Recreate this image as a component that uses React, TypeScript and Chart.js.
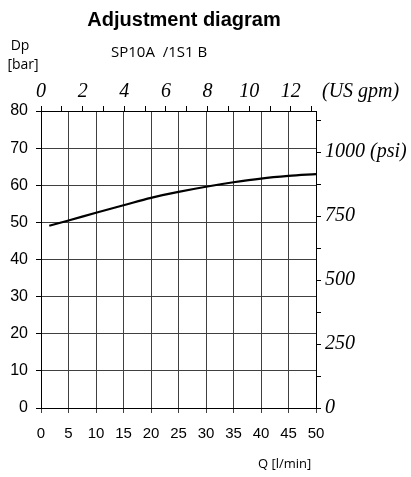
import React, { useEffect, useRef } from "react";
import { Chart, registerables } from "chart.js";

Chart.register(...registerables);

// ---- data ----
const flowLpm = [1.5, 5, 10, 15, 20, 25, 30, 35, 40, 45, 50];
const pressureBar = [49.1, 50.5, 52.6, 54.6, 56.6, 58.2, 59.6, 60.8, 61.8, 62.5, 63.0];

const gpmTicks = [0, 1, 2, 3, 4, 5, 6, 7, 8, 9, 10, 11, 12, 13];
const psiTicks = [0, 125, 250, 375, 500, 625, 750, 875, 1000, 1125];

const LPM_PER_GPM = 3.78541;
const PSI_PER_BAR = 14.5038;

const X_MIN = 0;
const X_MAX = 50;
const Y_MIN = 0;
const Y_MAX = 80;

const SANS = '"Liberation Sans", Arial, sans-serif';
const SERIF = '"Liberation Serif", "Times New Roman", serif';
const HUMAN = '"Open Sans", "Noto Sans", sans-serif';

const textPlugin = {
  id: "texts",
  afterDraw(chart: any) {
    const ctx = chart.ctx;
    ctx.save();
    ctx.fillStyle = "#000";
    ctx.textBaseline = "middle";

    ctx.font = `bold 20px ${SANS}`;
    ctx.textAlign = "center";
    ctx.fillText("Adjustment diagram", 184, 20);

    ctx.font = `14px ${HUMAN}`;
    ctx.fillText("Dp", 20, 46);
    ctx.fillText("[bar]", 23, 65);

    ctx.font = `15px ${HUMAN}`;
    ctx.textAlign = "left";
    ctx.fillText("SP10A  /1S1 B", 111, 53);

    ctx.font = `13px ${HUMAN}`;
    ctx.fillText("Q [l/min]", 258, 464);

    ctx.font = `italic 20px ${SERIF}`;
    ctx.fillText("(US gpm)", 322, 92);
    ctx.restore();
  },
};

export default function App() {
  const ref = useRef<HTMLCanvasElement>(null);

  useEffect(() => {
    if (!ref.current) return;
    const chart = new Chart(ref.current, {
      type: "line",
      data: {
        datasets: [
          {
            data: flowLpm.map((q, i) => ({ x: q, y: pressureBar[i] })),
            borderColor: "#000",
            borderWidth: 2.2,
            pointRadius: 0,
            fill: false,
            cubicInterpolationMode: "monotone",
            xAxisID: "x",
            yAxisID: "y",
          },
        ],
      },
      options: {
        animation: false,
        responsive: false,
        layout: { padding: 0 },
        plugins: {
          legend: { display: false },
          title: { display: false },
          tooltip: { enabled: false },
        },
        scales: {
          x: {
            type: "linear",
            position: "bottom",
            min: X_MIN,
            max: X_MAX,
            afterFit: (s: any) => {
              s.height = 69;
            },
            ticks: {
              stepSize: 5,
              color: "#000",
              font: { family: SANS, size: 15 },
              padding: 12,
              maxRotation: 0,
              autoSkip: false,
            },
            grid: {
              color: "#404040",
              lineWidth: 1,
              tickLength: 5,
              tickColor: "#404040",
            },
            border: { color: "#000", width: 1 },
          },
          gpm: {
            type: "linear",
            position: "top",
            min: X_MIN / LPM_PER_GPM,
            max: X_MAX / LPM_PER_GPM,
            afterFit: (s: any) => {
              s.height = 111;
            },
            afterBuildTicks: (s: any) => {
              s.ticks = gpmTicks.map((v) => ({ value: v }));
            },
            ticks: {
              color: "#000",
              font: { family: SERIF, size: 20, style: "italic" },
              padding: 2,
              maxRotation: 0,
              autoSkip: false,
              callback: (v: any) => (Number(v) % 2 === 0 ? String(v) : ""),
            },
            grid: {
              drawOnChartArea: false,
              tickLength: 5,
              tickColor: "#000",
            },
            border: { color: "#000", width: 1 },
          },
          y: {
            type: "linear",
            position: "left",
            min: Y_MIN,
            max: Y_MAX,
            afterFit: (s: any) => {
              s.width = 41;
            },
            ticks: {
              stepSize: 10,
              color: "#000",
              font: { family: SANS, size: 16 },
              padding: 8,
              autoSkip: false,
            },
            grid: {
              color: "#404040",
              lineWidth: 1,
              tickLength: 5,
              tickColor: "#000",
            },
            border: { color: "#000", width: 1 },
          },
          psi: {
            type: "linear",
            position: "right",
            min: Y_MIN * PSI_PER_BAR,
            max: Y_MAX * PSI_PER_BAR,
            afterFit: (s: any) => {
              s.width = 95;
            },
            afterBuildTicks: (s: any) => {
              s.ticks = psiTicks.map((v) => ({ value: v }));
            },
            ticks: {
              color: "#000",
              font: { family: SERIF, size: 20, style: "italic" },
              padding: 4,
              autoSkip: false,
              callback: (v: any) => {
                const n = Number(v);
                if (n % 250 !== 0) return "";
                return n === 1000 ? "1000 (psi)" : String(n);
              },
            },
            grid: {
              drawOnChartArea: false,
              tickLength: 5,
              tickColor: "#000",
            },
            border: { color: "#000", width: 1 },
          },
        },
      } as any,
      plugins: [textPlugin],
    });
    return () => chart.destroy();
  }, []);

  return (
    <div style={{ position: "absolute", left: 0, top: 0, width: 411, height: 477, background: "#fff" }}>
      <canvas ref={ref} width={411} height={477} style={{ display: "block" }} />
    </div>
  );
}
